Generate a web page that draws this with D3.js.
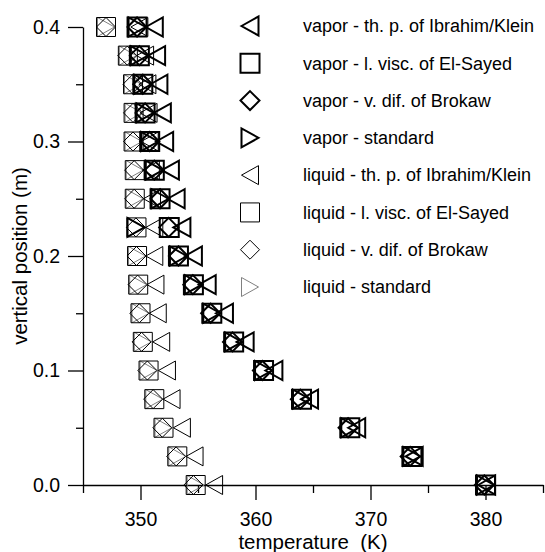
<!DOCTYPE html>
<html>
<head>
<meta charset="utf-8">
<script src="https://cdn.jsdelivr.net/npm/d3@7.9.0/dist/d3.min.js"></script>
<style>
  body { margin: 0; background: #fff; }
  svg text { font-family: Arial, "Liberation Sans", sans-serif; fill: #000; }
</style>
</head>
<body>
<svg id="chart" width="545" height="552"></svg>
<script>
// vertical positions (m), bottom to top
const heights = [0, 0.025, 0.05, 0.075, 0.1, 0.125, 0.15, 0.175, 0.2, 0.225, 0.25, 0.275, 0.3, 0.325, 0.35, 0.375, 0.4];

// temperatures (K) per series, same order as heights
const vaporThP     = [380.1, 373.8, 368.8, 364.7, 361.6, 359.1, 357.3, 355.8, 354.6, 353.6, 353.1, 352.6, 352.1, 351.9, 351.6, 351.4, 351.2];
const vaporVisc    = [380.0, 373.6, 368.2, 364.0, 360.7, 358.1, 356.2, 354.6, 353.3, 352.5, 351.7, 351.2, 350.8, 350.4, 350.2, 349.9, 349.7];
const vaporDif     = [379.9, 373.45, 368.05, 363.9, 360.6, 358.0, 356.1, 354.55, 353.3, 352.45, 351.7, 351.2, 350.8, 350.4, 350.2, 349.9, 349.7];
const vaporStd     = [380.0, 373.6, 368.2, 364.0, 360.7, 358.1, 356.2, 354.6, 353.3, 349.6, 351.7, 351.2, 350.8, 350.4, 350.2, 349.9, 349.7];
const liquidThP    = [356.4, 354.7, 353.6, 352.7, 352.3, 351.8, 351.5, 351.3, 351.2, 351.2, 351.0, 350.9, 350.8, 350.7, 350.6, 350.4, 349.9];
const liquidVisc   = [354.8, 353.2, 352.0, 351.2, 350.7, 350.2, 350.0, 349.8, 349.7, 349.65, 349.5, 349.5, 349.4, 349.4, 349.35, 348.9, 347.0];
const liquidDif    = [354.6, 353.1, 351.9, 351.1, 350.6, 350.1, 349.9, 349.75, 349.65, 349.6, 349.45, 349.45, 349.35, 349.35, 349.3, 348.85, 347.0];
const liquidStd    = [354.8, 353.2, 352.0, 351.2, 350.7, 350.2, 350.0, 349.8, 349.7, 349.65, 349.5, 349.5, 349.4, 349.4, 349.35, 348.9, 347.0];

const seriesNames = [
  'vapor - th. p. of Ibrahim/Klein',
  'vapor - l. visc. of El-Sayed',
  'vapor - v. dif. of Brokaw',
  'vapor - standard',
  'liquid - th. p. of Ibrahim/Klein',
  'liquid - l. visc. of El-Sayed',
  'liquid - v. dif. of Brokaw',
  'liquid - standard'
];

const xTicks = [350, 360, 370, 380];
const xMinorTicks = [345, 355, 365, 375, 385];
const yTicks = [0, 0.1, 0.2, 0.3, 0.4];
const yMinorTicks = [0.05, 0.15, 0.25, 0.35];

// marker styles
const series = [
  { name: seriesNames[0], values: vaporThP,   shape: 'left',    color: '#000', width: 2 },
  { name: seriesNames[1], values: vaporVisc,  shape: 'square',  color: '#000', width: 2 },
  { name: seriesNames[2], values: vaporDif,   shape: 'diamond', color: '#000', width: 2 },
  { name: seriesNames[3], values: vaporStd,   shape: 'right',   color: '#000', width: 2 },
  { name: seriesNames[4], values: liquidThP,  shape: 'left',    color: '#000', width: 1 },
  { name: seriesNames[5], values: liquidVisc, shape: 'square',  color: '#000', width: 1 },
  { name: seriesNames[6], values: liquidDif,  shape: 'diamond', color: '#000', width: 1 },
  { name: seriesNames[7], values: liquidStd,  shape: 'right',   color: '#808080', width: 1 }
];

const svg = d3.select('#chart');
const tickFont = 19.5;
const titleFont = 20.5;
const legendFont = 18;

const x = d3.scaleLinear().domain([345, 385]).range([83, 543]);
const y = d3.scaleLinear().domain([0, 0.4]).range([485, 27]);

// path for a marker centred on 0,0
function markerPath(shape) {
  const h = 9.5;   // half size
  const tw = 8.5;  // half width of triangles
  switch (shape) {
    case 'square':  return `M${-h},${-h}H${h}V${h}H${-h}Z`;
    case 'diamond': return `M${-h},0L0,${-h}L${h},0L0,${h}Z`;
    case 'left':    return `M${-tw},0L${tw},${-h}L${tw},${h}Z`;
    case 'right':   return `M${tw},0L${-tw},${-h}L${-tw},${h}Z`;
  }
}

// axes
svg.append('g').attr('transform', `translate(0,${y(0)})`)
  .call(d3.axisBottom(x).tickValues(xTicks).tickSize(15).tickSizeOuter(0).tickPadding(12).tickFormat(d3.format('d')));
svg.append('g').attr('transform', `translate(0,${y(0)})`)
  .call(d3.axisBottom(x).tickValues(xMinorTicks).tickSize(8).tickSizeOuter(0).tickFormat(''))
  .select('.domain').remove();

svg.append('g').attr('transform', `translate(${x(345)},0)`)
  .call(d3.axisLeft(y).tickValues(yTicks).tickSize(15).tickSizeOuter(0).tickPadding(8).tickFormat(d3.format('.1f')));
svg.append('g').attr('transform', `translate(${x(345)},0)`)
  .call(d3.axisLeft(y).tickValues(yMinorTicks).tickSize(7).tickSizeOuter(0).tickFormat(''))
  .select('.domain').remove();

svg.selectAll('.domain, .tick line').attr('stroke', '#000').attr('stroke-width', 1.3);
svg.selectAll('.tick text').attr('font-size', tickFont).attr('font-family', 'Arial, "Liberation Sans", sans-serif');

// axis titles
svg.append('text')
  .attr('x', 313).attr('y', 549)
  .attr('text-anchor', 'middle')
  .attr('font-size', titleFont)
  .attr('xml:space', 'preserve')
  .text('temperature  (K)');

svg.append('text')
  .attr('transform', `translate(20,256) rotate(-90)`)
  .attr('text-anchor', 'middle')
  .attr('dy', '0.35em')
  .attr('font-size', titleFont)
  .text('vertical position (m)');

// markers: liquid drawn first, vapor on top
const drawOrder = [7, 6, 5, 4, 3, 2, 1, 0];
drawOrder.forEach(i => {
  const s = series[i];
  svg.append('g')
    .selectAll('path')
    .data(heights.map((h, k) => ({ h, t: s.values[k] })))
    .join('path')
    .attr('d', markerPath(s.shape))
    .attr('transform', d => `translate(${x(d.t)},${y(d.h)})`)
    .attr('fill', 'none')
    .attr('stroke', s.color)
    .attr('stroke-width', s.width);
});

// legend
const legend = svg.append('g');
const legendY = d3.scalePoint().domain(seriesNames).range([26, 287]);
series.forEach(s => {
  const g = legend.append('g').attr('transform', `translate(0,${legendY(s.name)})`);
  g.append('path')
    .attr('d', markerPath(s.shape))
    .attr('transform', 'translate(250,0)')
    .attr('fill', 'none')
    .attr('stroke', s.color)
    .attr('stroke-width', s.width);
  g.append('text')
    .attr('x', 303)
    .attr('dy', '0.35em')
    .attr('font-size', legendFont)
    .text(s.name);
});
</script>
</body>
</html>
